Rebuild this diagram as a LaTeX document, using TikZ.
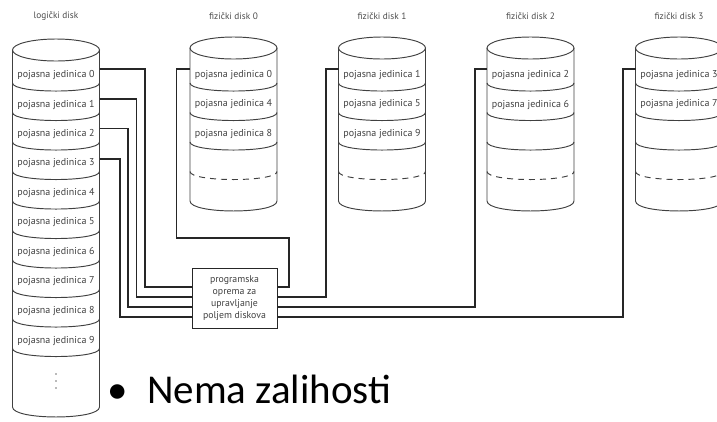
\documentclass[tikz,border=0pt]{standalone}
\usepackage{fontspec}
\setmainfont{PT Sans}
\newfontfamily\carlito{Carlito}
\begin{document}
\begin{tikzpicture}[x=1pt,y=-1pt,
  cyl/.style={draw=black!75, line width=0.95pt},
  dsh/.style={draw=black!75, line width=0.95pt, dash pattern=on 6pt off 5pt},
  conn/.style={draw=black!85, line width=1.2pt},
  lbl/.style={font=\fontsize{10}{11}\selectfont, text=black!75, inner sep=0pt},
  ttl/.style={font=\fontsize{9.3}{11}\selectfont, text=black!70, inner sep=0pt},
  ctrl/.style={draw=black!85, line width=1pt, fill=white, minimum width=85pt, minimum height=60pt, align=center, font=\fontsize{9.8}{12.2}\selectfont, text=black!75, inner sep=0pt},
  big/.style={font=\carlito\fontsize{41}{48}\selectfont, text=black, inner sep=0pt, anchor=base west},
  dot/.style={fill=black!55, draw=none}
]
\useasboundingbox (0,0) rectangle (717,421);
\clip (0,0) rectangle (717,421);

% ---------- logical disk ----------
\node[ttl] (Tl) at (56,16) {logički disk};
\draw[cyl] (56,50) ellipse [x radius=43.5, y radius=11];
\draw[cyl] (12.5,50) -- (12.5,407) .. controls (12.5,420.3) and (99.5,420.3) .. (99.5,407) -- (99.5,50);
\foreach \k in {0,...,9}{
  \pgfmathsetmacro\yy{83+29.5*\k}
  \pgfmathsetmacro\yc{\yy+10.7}
  \draw[cyl] (12.5,\yy) .. controls (12.5,\yc) and (99.5,\yc) .. (99.5,\yy);
  \node[lbl] (L\k) at (56,{75+29.5*\k}) {pojasna jedinica \k};
}
\foreach \yy in {374,381,388}{ \fill[dot] (56,\yy) circle [radius=0.8]; }

% ---------- physical disks ----------
\foreach \d/\xl in {0/190,1/338.5,2/487,3/635.5}{
  \pgfmathsetmacro\xc{\xl+43.5}
  \pgfmathsetmacro\xr{\xl+87}
  \node[ttl] (T\d) at (\xc,16) {fizički disk \d};
  \draw[cyl] (\xc,48) ellipse [x radius=43.5, y radius=11];
  \draw[cyl] (\xl,48) -- (\xl,201) .. controls (\xl,214.3) and (\xr,214.3) .. (\xr,201) -- (\xr,48);
  \foreach \yy in {83,112.5,142}{
    \pgfmathsetmacro\yc{\yy+10.7}
    \draw[cyl] (\xl,\yy) .. controls (\xl,\yc) and (\xr,\yc) .. (\xr,\yy);
  }
  \draw[dsh] (\xl,171.5) .. controls (\xl,182.2) and (\xr,182.2) .. (\xr,171.5);
  \coordinate (Pe\d) at (\xl,69);
}
\foreach \d/\xl in {0/190,1/338.5}{
  \foreach \r in {0,1,2}{
    \pgfmathtruncatemacro\u{\d+4*\r}
    \node[lbl] (P\d r\r) at ({\xl+43.5},{75+29.5*\r}) {pojasna jedinica \u};
  }
}
\foreach \d/\xl in {2/487,3/635.5}{
  \foreach \r in {0,1}{
    \pgfmathtruncatemacro\u{\d+4*\r}
    \node[lbl] (P\d r\r) at ({\xl+43.5},{75+29.5*\r}) {pojasna jedinica \u};
  }
}

% ---------- controller ----------
\node[ctrl] (sw) at (234.5,298) {programska\\oprema za\\upravljanje\\poljem diskova};

% connector end points
\coordinate (Le0) at (99.5,69);
\coordinate (Le1) at (99.5,99);
\coordinate (Le2) at (99.5,128.5);
\coordinate (Le3) at (99.5,159);
\coordinate (bw0) at (192,287);
\coordinate (bw1) at (192,297);
\coordinate (bw2) at (192,307);
\coordinate (bw3) at (192,317);
\coordinate (be0) at (277,287);
\coordinate (be1) at (277,297);
\coordinate (be2) at (277,307);
\coordinate (be3) at (277,317);

\draw[conn] (Le0) -- (145,69) |- (bw0);
\draw[conn] (Le1) -- (136.5,99) |- (bw1);
\draw[conn] (Le2) -- (128,128.5) |- (bw2);
\draw[conn] (Le3) -- (120,159) |- (bw3);

\draw[conn] (Pe0) -- (176.5,69) -- (176.5,238) -- (289,238) |- (be0);
\draw[conn] (Pe1) -- (326,69) |- (be1);
\draw[conn] (Pe2) -- (475,69) |- (be2);
\draw[conn] (Pe3) -- (623,69) |- (be3);

% ---------- bullet text ----------
\node[big] (note) at (107,403) {\makebox[40pt][l]{•}Nema zalihosti};
\end{tikzpicture}
\end{document}
